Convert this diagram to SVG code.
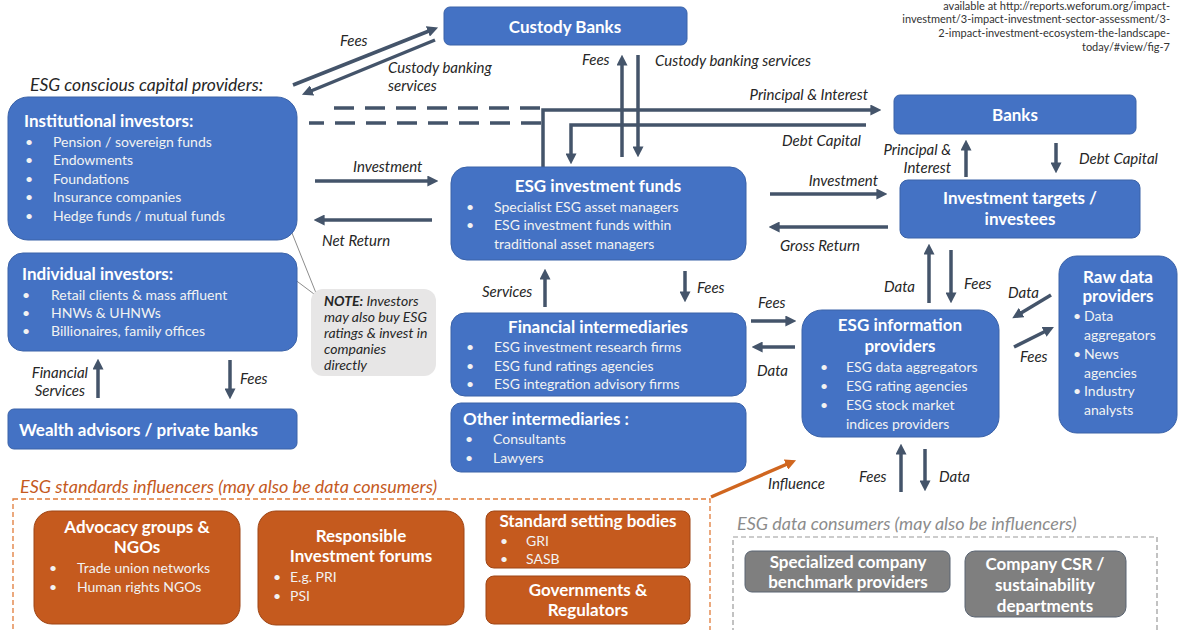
<svg xmlns="http://www.w3.org/2000/svg" width="1178" height="630" viewBox="0 0 1178 630">
<style>
text{font-family:Lato,"Open Sans","Liberation Sans",sans-serif}
.blue{fill:#4472c4;stroke:#3a62a8;stroke-width:1}
.orange{fill:#c55a1e;stroke:#9e4515;stroke-width:1}
.grayb{fill:#7f7f7f;stroke:#5a6472;stroke-width:1}
.t{fill:#fff;font-weight:bold;font-size:17px}
.tc{fill:#fff;font-weight:bold;font-size:17px;text-anchor:middle}
.b{fill:#f2f2f2;font-size:14px}
.ob{fill:#f2f2f2;font-size:14px}
.lbl{fill:#262626;font-size:15px;font-style:italic}
.lblr{fill:#262626;font-size:15px;font-style:italic;text-anchor:end}
.arr{stroke:#44546a;stroke-width:3.5;fill:none;marker-end:url(#ah)}
.ln{stroke:#44546a;stroke-width:3.5;fill:none}
.dash{stroke:#44546a;stroke-width:3.5;fill:none;stroke-dasharray:20 11}
</style>
<defs>
<marker id="ah" viewBox="0 0 10 10" refX="6" refY="5" markerWidth="11" markerHeight="11" markerUnits="userSpaceOnUse" orient="auto">
<path d="M0,0 L10,5 L0,10 z" fill="#44546a"/>
</marker>
<marker id="aho" viewBox="0 0 10 10" refX="6" refY="5" markerWidth="11" markerHeight="11" markerUnits="userSpaceOnUse" orient="auto">
<path d="M0,0 L10,5 L0,10 z" fill="#d0661f"/>
</marker>
</defs>
<rect width="1178" height="630" fill="#fff"/>

<g id="source-note" font-size="11" fill="#333" text-anchor="end">
<text x="1170" y="10">available at http://reports.weforum.org/impact-</text>
<text x="1170" y="23">investment/3-impact-investment-sector-assessment/3-</text>
<text x="1170" y="37">2-impact-investment-ecosystem-the-landscape-</text>
<text x="1170" y="51">today/#view/fig-7</text>
</g>

<text x="30" y="91" font-size="17.5" font-style="italic" fill="#262626">ESG conscious capital providers:</text>

<g id="connectors">
<!-- custody -->
<line class="arr" x1="293" y1="85" x2="434" y2="29"/>
<line class="arr" x1="435" y1="40" x2="306" y2="93"/>
<line class="arr" x1="622" y1="157" x2="622" y2="59"/>
<line class="arr" x1="638" y1="55" x2="638" y2="153"/>
<!-- banks lines -->
<polyline class="arr" points="543,167 543,110 877,110"/>
<line class="dash" x1="334" y1="108" x2="541" y2="108"/>
<polyline class="arr" points="866,125 571,125 571,160"/>
<line class="dash" x1="541" y1="123" x2="309" y2="123"/>
<!-- institutional <-> funds -->
<line class="arr" x1="315" y1="181" x2="434" y2="181"/>
<line class="arr" x1="432" y1="220" x2="318" y2="220"/>
<!-- funds <-> targets -->
<line class="arr" x1="770" y1="194" x2="883" y2="194"/>
<line class="arr" x1="888" y1="227" x2="773" y2="227"/>
<!-- targets <-> banks -->
<line class="arr" x1="966" y1="177" x2="966" y2="144"/>
<line class="arr" x1="1056" y1="143" x2="1056" y2="169"/>
<!-- info providers <-> targets -->
<line class="arr" x1="929" y1="303" x2="929" y2="248"/>
<line class="arr" x1="951" y1="250" x2="951" y2="299"/>
<!-- funds <-> fin intermediaries -->
<line class="arr" x1="545" y1="307" x2="545" y2="273"/>
<line class="arr" x1="685" y1="271" x2="685" y2="298"/>
<!-- fin intermediaries <-> info providers -->
<line class="arr" x1="751" y1="321" x2="792" y2="321"/>
<line class="arr" x1="795" y1="347" x2="756" y2="347"/>
<!-- raw data -->
<line class="arr" x1="1051" y1="295" x2="1016" y2="316"/>
<line class="arr" x1="1014" y1="347" x2="1050" y2="329"/>
<!-- consumers -->
<line class="arr" x1="901" y1="492" x2="901" y2="448"/>
<line class="arr" x1="925" y1="449" x2="925" y2="487"/>
<!-- individual <-> wealth -->
<line class="arr" x1="98" y1="398" x2="98" y2="363"/>
<line class="arr" x1="230" y1="360" x2="230" y2="395"/>
<!-- influence -->
<line x1="711" y1="497" x2="792" y2="462" stroke="#d0661f" stroke-width="3.5" marker-end="url(#aho)"/>
<!-- note pointers -->
<line x1="292" y1="233" x2="318" y2="298" stroke="#8c8c8c" stroke-width="1"/>
<line x1="294" y1="279" x2="318" y2="297" stroke="#8c8c8c" stroke-width="1"/>
</g>

<g id="connector-labels">
<text class="lbl" x="340" y="46">Fees</text>
<text class="lbl" x="388" y="73">Custody banking</text>
<text class="lbl" x="388" y="91">services</text>
<text class="lbl" x="582" y="65">Fees</text>
<text class="lbl" x="655" y="66">Custody banking services</text>
<text class="lblr" x="868" y="100">Principal &amp; Interest</text>
<text class="lblr" x="861" y="146">Debt Capital</text>
<text class="lbl" x="353" y="172">Investment</text>
<text class="lbl" x="322" y="246">Net Return</text>
<text class="lblr" x="878" y="186">Investment</text>
<text class="lbl" x="780" y="251">Gross Return</text>
<text class="lblr" x="951" y="155">Principal &amp;</text>
<text class="lblr" x="951" y="173">Interest</text>
<text class="lbl" x="1079" y="164">Debt Capital</text>
<text class="lbl" x="884" y="292">Data</text>
<text class="lbl" x="964" y="289">Fees</text>
<text class="lbl" x="482" y="297">Services</text>
<text class="lbl" x="697" y="293">Fees</text>
<text class="lbl" x="758" y="308">Fees</text>
<text class="lbl" x="757" y="376">Data</text>
<text class="lbl" x="1008" y="298">Data</text>
<text class="lbl" x="1020" y="362">Fees</text>
<text class="lbl" x="859" y="482">Fees</text>
<text class="lbl" x="939" y="482">Data</text>
<text class="lbl" x="768" y="489">Influence</text>
<text class="lblr" x="88" y="378">Financial</text>
<text class="lblr" x="85" y="396">Services</text>
<text class="lbl" x="240" y="384">Fees</text>
</g>

<g id="custody-banks">
<rect class="blue" x="444" y="7" width="243" height="38" rx="6"/>
<text class="tc" x="565" y="33" font-size="16">Custody Banks</text>
</g>

<g id="banks">
<rect class="blue" x="894" y="95" width="242" height="39" rx="6"/>
<text class="tc" x="1015" y="121">Banks</text>
</g>

<g id="investment-targets">
<rect class="blue" x="900" y="180" width="240" height="58" rx="8"/>
<text class="tc" x="1020" y="204">Investment targets /</text>
<text class="tc" x="1020" y="225">investees</text>
</g>

<g id="institutional-investors">
<rect class="blue" x="8" y="97" width="289" height="143" rx="20"/>
<text class="t" x="24" y="127">Institutional investors:</text>
<g class="b">
<text x="25" y="147">•</text><text x="53" y="147">Pension / sovereign funds</text>
<text x="25" y="165">•</text><text x="53" y="165">Endowments</text>
<text x="25" y="184">•</text><text x="53" y="184">Foundations</text>
<text x="25" y="202">•</text><text x="53" y="202">Insurance companies</text>
<text x="25" y="221">•</text><text x="53" y="221">Hedge funds / mutual funds</text>
</g>
</g>

<g id="individual-investors">
<rect class="blue" x="8" y="253" width="289" height="98" rx="15"/>
<text class="t" x="22" y="280">Individual investors:</text>
<g class="b">
<text x="22" y="300">•</text><text x="51" y="300">Retail clients &amp; mass affluent</text>
<text x="22" y="318">•</text><text x="51" y="318">HNWs &amp; UHNWs</text>
<text x="22" y="336">•</text><text x="51" y="336">Billionaires, family offices</text>
</g>
</g>

<g id="wealth-advisors">
<rect class="blue" x="8" y="409" width="289" height="40" rx="6"/>
<text class="t" x="19" y="436">Wealth advisors / private banks</text>
</g>

<g id="note">
<rect x="311" y="289" width="125" height="87" rx="12" fill="#e7e6e6"/>
<g font-size="14" font-style="italic" fill="#262626">
<text x="324" y="306"><tspan font-weight="bold">NOTE:</tspan> Investors</text>
<text x="324" y="322">may also buy ESG</text>
<text x="324" y="338">ratings &amp; invest in</text>
<text x="324" y="354">companies</text>
<text x="324" y="370">directly</text>
</g>
</g>

<g id="esg-investment-funds">
<rect class="blue" x="451" y="167" width="295" height="93" rx="16"/>
<text class="tc" x="598" y="192">ESG investment funds</text>
<g class="b">
<text x="466" y="212">•</text><text x="494" y="212">Specialist ESG asset managers</text>
<text x="466" y="230">•</text><text x="494" y="230">ESG investment funds within</text>
<text x="494" y="249">traditional asset managers</text>
</g>
</g>

<g id="financial-intermediaries">
<rect class="blue" x="451" y="313" width="295" height="83" rx="14"/>
<text class="tc" x="598" y="333">Financial intermediaries</text>
<g class="b">
<text x="466" y="352">•</text><text x="494" y="352">ESG investment research firms</text>
<text x="466" y="371">•</text><text x="494" y="371">ESG fund ratings agencies</text>
<text x="466" y="389">•</text><text x="494" y="389">ESG integration advisory firms</text>
</g>
</g>

<g id="other-intermediaries">
<rect class="blue" x="451" y="403" width="295" height="69" rx="10"/>
<text class="t" x="463" y="425">Other intermediaries :</text>
<g class="b">
<text x="465" y="444">•</text><text x="493" y="444">Consultants</text>
<text x="465" y="463">•</text><text x="493" y="463">Lawyers</text>
</g>
</g>

<g id="esg-information-providers">
<rect class="blue" x="802" y="310" width="197" height="127" rx="20"/>
<text class="tc" x="900" y="331">ESG information</text>
<text class="tc" x="900" y="352">providers</text>
<g class="b">
<text x="820" y="372">•</text><text x="846" y="372">ESG data aggregators</text>
<text x="820" y="391">•</text><text x="846" y="391">ESG rating agencies</text>
<text x="820" y="410">•</text><text x="846" y="410">ESG stock market</text>
<text x="846" y="429">indices providers</text>
</g>
</g>

<g id="raw-data-providers">
<rect class="blue" x="1059" y="256" width="118" height="177" rx="18"/>
<text class="tc" x="1118" y="283" font-size="14.5">Raw data</text>
<text class="tc" x="1118" y="302" font-size="14.5">providers</text>
<g class="b">
<text x="1073" y="321">•</text><text x="1084" y="321">Data</text>
<text x="1084" y="340">aggregators</text>
<text x="1073" y="359">•</text><text x="1084" y="359">News</text>
<text x="1084" y="378">agencies</text>
<text x="1073" y="396">•</text><text x="1084" y="396">Industry</text>
<text x="1084" y="415">analysts</text>
</g>
</g>

<g id="standards-influencers">
<text x="20" y="493" font-size="18" font-style="italic" fill="#c55a1e">ESG standards influencers (may also be data consumers)</text>
<rect x="13" y="499" width="697" height="140" fill="none" stroke="#e07b39" stroke-width="1.3" stroke-dasharray="5 3"/>
</g>

<g id="advocacy-groups">
<rect class="orange" x="34" y="511" width="206" height="113" rx="18"/>
<text class="tc" x="137" y="533" font-size="16">Advocacy groups &amp;</text>
<text class="tc" x="137" y="553" font-size="16">NGOs</text>
<g class="ob">
<text x="49" y="573">•</text><text x="77" y="573">Trade union networks</text>
<text x="49" y="592">•</text><text x="77" y="592">Human rights NGOs</text>
</g>
</g>

<g id="responsible-investment-forums">
<rect class="orange" x="258" y="511" width="206" height="114" rx="18"/>
<text class="tc" x="361" y="542" font-size="16">Responsible</text>
<text class="tc" x="361" y="562" font-size="16">Investment forums</text>
<g class="ob">
<text x="273" y="582">•</text><text x="290" y="582">E.g. PRI</text>
<text x="273" y="601">•</text><text x="290" y="601">PSI</text>
</g>
</g>

<g id="standard-setting-bodies">
<rect class="orange" x="486" y="511" width="204" height="57" rx="8"/>
<text class="tc" x="588" y="527" font-size="15">Standard setting bodies</text>
<g class="ob">
<text x="500" y="546">•</text><text x="526" y="546">GRI</text>
<text x="500" y="564">•</text><text x="526" y="564">SASB</text>
</g>
</g>

<g id="governments-regulators">
<rect class="orange" x="486" y="576" width="204" height="48" rx="8"/>
<text class="tc" x="588" y="596" font-size="16">Governments &amp;</text>
<text class="tc" x="588" y="616" font-size="16">Regulators</text>
</g>

<g id="data-consumers">
<text x="737" y="530" font-size="18" font-style="italic" fill="#8c8c8c">ESG data consumers (may also be influencers)</text>
<rect x="733" y="537" width="424" height="100" fill="none" stroke="#9a9a9a" stroke-width="1.2" stroke-dasharray="5 3"/>
</g>

<g id="benchmark-providers">
<rect class="grayb" x="745" y="551" width="205" height="41" rx="7"/>
<text class="tc" x="848" y="568" font-size="16">Specialized company</text>
<text class="tc" x="848" y="588" font-size="16">benchmark providers</text>
</g>

<g id="csr-departments">
<rect class="grayb" x="965" y="551" width="161" height="66" rx="10"/>
<text class="tc" x="1045" y="570" font-size="16">Company CSR /</text>
<text class="tc" x="1045" y="591" font-size="16">sustainability</text>
<text class="tc" x="1045" y="612" font-size="16">departments</text>
</g>
</svg>
